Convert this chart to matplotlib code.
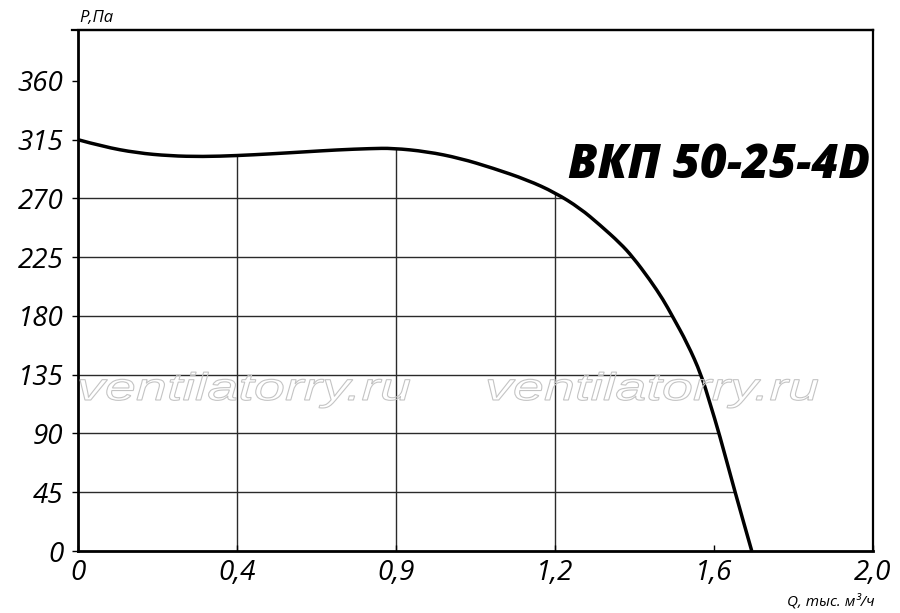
import matplotlib
matplotlib.use("Agg")
import matplotlib.pyplot as plt
from matplotlib.patches import PathPatch
from matplotlib.path import Path
from matplotlib.textpath import TextPath
from matplotlib.font_manager import FontProperties
from matplotlib.transforms import Affine2D

# кривая P(Q)
q_vals = [0.0, 0.063, 0.148, 0.231, 0.314, 0.400, 0.483, 0.566, 0.652, 0.735,
          0.792, 0.878, 0.961, 1.044, 1.130, 1.200, 1.263, 1.313, 1.364,
          1.396, 1.439, 1.4725, 1.495, 1.533, 1.568, 1.590, 1.613, 1.653,
          1.695]
p_vals = [315.0, 309.7, 304.9, 302.6, 302.0, 302.8, 304.1, 305.6, 307.2, 308.2,
          308.5, 305.9, 300.8, 293.2, 284.2, 274.5, 262.5, 249.7, 235.7,
          225.0, 207.6, 192.3, 180.0, 159.0, 135.0, 113.0, 90.0, 45.0,
          0.0]

x_ticks = [0.0, 0.4, 0.8, 1.2, 1.6, 2.0]
x_labels = ["0", "0,4", "0,9", "1,2", "1,6", "2,0"]
y_ticks = [0, 45, 90, 135, 180, 225, 270, 315, 360]
grid_x = [0.4, 0.8, 1.2]
grid_y = [45, 90, 135, 180, 225, 270, 315, 360]

title = "ВКП 50-25-4D"
watermark = "ventilatorry.ru"

plt.rcParams["font.family"] = ["Open Sans", "DejaVu Sans"]

W, H = 900, 613
fig = plt.figure(figsize=(W / 100, H / 100), dpi=100, facecolor="white")
ax = fig.add_axes([78 / W, 1 - 551 / H, 795 / W, 521 / H])
ax.set_xlim(0, 2.0)
ax.set_ylim(0, 399)

# гладкая кривая: точки — контрольные вершины квадратичных сплайнов
pts = list(zip(q_vals, p_vals))
verts = [pts[0]]
codes = [Path.MOVETO]
for i in range(1, len(pts) - 1):
    nxt = ((pts[i][0] + pts[i + 1][0]) / 2, (pts[i][1] + pts[i + 1][1]) / 2)
    verts += [pts[i], nxt]
    codes += [Path.CURVE3, Path.CURVE3]
verts.append(pts[-1])
codes.append(Path.LINETO)
curve = Path(verts, codes)

area = Path(verts + [(q_vals[-1], 0), (0, 0), (0, 0)],
            codes + [Path.LINETO, Path.LINETO, Path.CLOSEPOLY])
clip = PathPatch(area, transform=ax.transData)

# сетка только под кривой
hl = ax.hlines(grid_y, 0, 2.0, colors="#2a2a2a", linewidth=1.0, zorder=1)
vl = ax.vlines(grid_x, 0, 400, colors="#2a2a2a", linewidth=1.0, zorder=1)
hl.set_clip_path(clip)
vl.set_clip_path(clip)

ax.add_patch(PathPatch(curve, facecolor="none", edgecolor="black",
                       linewidth=2.5, zorder=3, capstyle="butt"))

# оси и рамка
for side in ["left", "bottom"]:
    ax.spines[side].set_linewidth(2.0)
for side in ["top", "right"]:
    ax.spines[side].set_linewidth(1.6)
ax.plot([-6 / 795, 1], [1, 1], transform=ax.transAxes, color="black",
        linewidth=1.6, clip_on=False, zorder=5)

ax.set_xticks(x_ticks)
ax.set_xticklabels(x_labels, fontstyle="italic")
ax.set_yticks(y_ticks)
ax.set_yticklabels([str(v) for v in y_ticks], fontstyle="italic")
ax.tick_params(axis="x", direction="in", length=4.5, width=1.0, pad=6,
               labelsize=20)
ax.tick_params(axis="y", direction="out", length=4.5, width=1.0, pad=6,
               labelsize=20)

fig.text(79 / W, 1 - 22 / H, "P,Па", fontsize=12, style="italic",
         ha="left", va="baseline")
fig.text(875 / W, 1 - 606 / H, "Q, тыс. м³/ч", fontsize=11, style="italic",
         ha="right", va="baseline")

fig.text(870 / W, 1 - 178 / H, title, fontsize=33.5, style="italic",
         fontweight=800, ha="right", va="baseline")

# водяной знак — контурный текст
fp = FontProperties(family=["Liberation Sans", "DejaVu Sans"], style="italic")
tp = TextPath((0, 0), watermark, size=1, prop=fp)
ext = tp.get_extents()
sy = 38.5
sx = 330 / ext.width
for cx in [245, 653]:
    x0 = cx - 330 / 2 - ext.x0 * sx
    tr = (Affine2D().scale(sx / W, sy / H)
          .translate(x0 / W, 1 - 400 / H) + fig.transFigure)
    fig.add_artist(PathPatch(tp, transform=tr, facecolor="none",
                             edgecolor="#c4c4c4", linewidth=0.8, zorder=0.5))

fig.savefig("out.png", dpi=100, facecolor="white")
